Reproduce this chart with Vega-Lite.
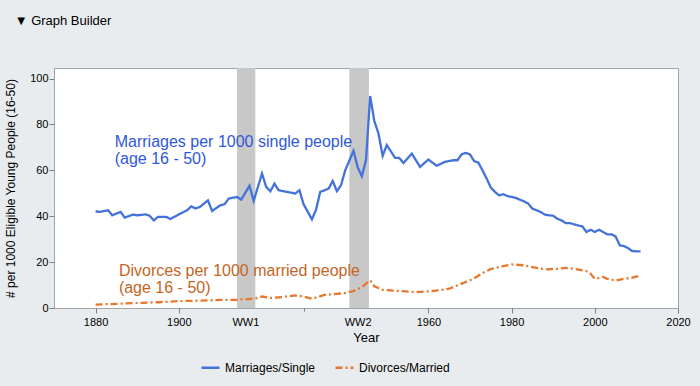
{
  "$schema": "https://vega.github.io/schema/vega-lite/v6.json",
  "width": 624,
  "height": 240,
  "autosize": {"type": "none"},
  "padding": {"left": 54, "top": 68, "right": 22, "bottom": 78},
  "background": "#E9ECEE",
  "title": {"text": "▼   Graph Builder", "anchor": "start", "frame": "bounds", "orient": "top", "font": "Liberation Sans", "fontSize": 13, "fontWeight": "normal", "color": "#000000", "dx": 10, "offset": 30, "baseline": "alphabetic"},
  "config": {
    "font": "Liberation Sans",
    "view": {"stroke": "#A0A4A8", "fill": "#FFFFFF"},
    "axis": {"domain": false, "grid": false, "tickColor": "#7F7F7F", "labelColor": "#000000", "labelFont": "Liberation Sans", "labelFontSize": 11, "titleFont": "Liberation Sans", "titleFontWeight": "normal", "titleColor": "#000000"},
    "legend": {"orient": "none", "legendX": 146, "legendY": 289, "direction": "horizontal", "title": null, "labelFont": "Liberation Sans", "labelFontSize": 12, "labelColor": "#000000", "symbolSize": 324, "symbolStrokeWidth": 2.5, "columnPadding": 14, "labelOffset": 4}
  },
  "datasets": {
    "series": [
      {"year": 1880, "series": "Marriages/Single", "value": 42.1},
      {"year": 1881, "series": "Marriages/Single", "value": 41.9},
      {"year": 1883, "series": "Marriages/Single", "value": 42.6},
      {"year": 1884, "series": "Marriages/Single", "value": 40.4},
      {"year": 1886, "series": "Marriages/Single", "value": 41.9},
      {"year": 1887, "series": "Marriages/Single", "value": 39.4},
      {"year": 1889, "series": "Marriages/Single", "value": 40.7},
      {"year": 1890, "series": "Marriages/Single", "value": 40.4},
      {"year": 1892, "series": "Marriages/Single", "value": 40.8},
      {"year": 1893, "series": "Marriages/Single", "value": 40.2},
      {"year": 1894, "series": "Marriages/Single", "value": 38.2},
      {"year": 1895, "series": "Marriages/Single", "value": 39.7},
      {"year": 1897, "series": "Marriages/Single", "value": 39.7},
      {"year": 1898, "series": "Marriages/Single", "value": 38.8},
      {"year": 1900, "series": "Marriages/Single", "value": 40.8},
      {"year": 1902, "series": "Marriages/Single", "value": 42.6},
      {"year": 1903, "series": "Marriages/Single", "value": 44.3},
      {"year": 1904, "series": "Marriages/Single", "value": 43.4},
      {"year": 1905, "series": "Marriages/Single", "value": 44.0},
      {"year": 1907, "series": "Marriages/Single", "value": 46.9},
      {"year": 1908, "series": "Marriages/Single", "value": 42.3},
      {"year": 1910, "series": "Marriages/Single", "value": 44.8},
      {"year": 1911, "series": "Marriages/Single", "value": 45.2},
      {"year": 1912, "series": "Marriages/Single", "value": 47.7},
      {"year": 1914, "series": "Marriages/Single", "value": 48.4},
      {"year": 1915, "series": "Marriages/Single", "value": 47.2},
      {"year": 1917, "series": "Marriages/Single", "value": 53.3},
      {"year": 1918, "series": "Marriages/Single", "value": 46.7},
      {"year": 1920, "series": "Marriages/Single", "value": 58.6},
      {"year": 1921, "series": "Marriages/Single", "value": 52.8},
      {"year": 1922, "series": "Marriages/Single", "value": 50.9},
      {"year": 1923, "series": "Marriages/Single", "value": 54.2},
      {"year": 1924, "series": "Marriages/Single", "value": 51.3},
      {"year": 1926, "series": "Marriages/Single", "value": 50.6},
      {"year": 1928, "series": "Marriages/Single", "value": 49.9},
      {"year": 1929, "series": "Marriages/Single", "value": 51.3},
      {"year": 1930, "series": "Marriages/Single", "value": 45.2},
      {"year": 1932, "series": "Marriages/Single", "value": 38.6},
      {"year": 1933, "series": "Marriages/Single", "value": 42.9},
      {"year": 1934, "series": "Marriages/Single", "value": 50.6},
      {"year": 1936, "series": "Marriages/Single", "value": 52.0},
      {"year": 1937, "series": "Marriages/Single", "value": 55.4},
      {"year": 1938, "series": "Marriages/Single", "value": 50.9},
      {"year": 1939, "series": "Marriages/Single", "value": 53.5},
      {"year": 1940, "series": "Marriages/Single", "value": 60.0},
      {"year": 1942, "series": "Marriages/Single", "value": 68.5},
      {"year": 1943, "series": "Marriages/Single", "value": 61.3},
      {"year": 1944, "series": "Marriages/Single", "value": 57.4},
      {"year": 1945, "series": "Marriages/Single", "value": 64.4},
      {"year": 1946, "series": "Marriages/Single", "value": 92.4},
      {"year": 1947, "series": "Marriages/Single", "value": 81.5},
      {"year": 1948, "series": "Marriages/Single", "value": 76.1},
      {"year": 1949, "series": "Marriages/Single", "value": 66.3},
      {"year": 1950, "series": "Marriages/Single", "value": 71.0},
      {"year": 1952, "series": "Marriages/Single", "value": 65.4},
      {"year": 1953, "series": "Marriages/Single", "value": 65.4},
      {"year": 1954, "series": "Marriages/Single", "value": 63.2},
      {"year": 1956, "series": "Marriages/Single", "value": 67.3},
      {"year": 1958, "series": "Marriages/Single", "value": 61.5},
      {"year": 1960, "series": "Marriages/Single", "value": 64.7},
      {"year": 1962, "series": "Marriages/Single", "value": 62.0},
      {"year": 1964, "series": "Marriages/Single", "value": 63.7},
      {"year": 1966, "series": "Marriages/Single", "value": 64.4},
      {"year": 1967, "series": "Marriages/Single", "value": 64.4},
      {"year": 1968, "series": "Marriages/Single", "value": 67.0},
      {"year": 1969, "series": "Marriages/Single", "value": 67.6},
      {"year": 1970, "series": "Marriages/Single", "value": 66.9},
      {"year": 1971, "series": "Marriages/Single", "value": 64.0},
      {"year": 1972, "series": "Marriages/Single", "value": 63.4},
      {"year": 1973, "series": "Marriages/Single", "value": 60.0},
      {"year": 1974, "series": "Marriages/Single", "value": 56.4},
      {"year": 1975, "series": "Marriages/Single", "value": 52.5},
      {"year": 1976, "series": "Marriages/Single", "value": 50.6},
      {"year": 1977, "series": "Marriages/Single", "value": 49.1},
      {"year": 1978, "series": "Marriages/Single", "value": 49.6},
      {"year": 1979, "series": "Marriages/Single", "value": 48.8},
      {"year": 1980, "series": "Marriages/Single", "value": 48.4},
      {"year": 1981, "series": "Marriages/Single", "value": 48.0},
      {"year": 1982, "series": "Marriages/Single", "value": 47.2},
      {"year": 1983, "series": "Marriages/Single", "value": 46.5},
      {"year": 1984, "series": "Marriages/Single", "value": 45.5},
      {"year": 1985, "series": "Marriages/Single", "value": 43.3},
      {"year": 1986, "series": "Marriages/Single", "value": 42.6},
      {"year": 1987, "series": "Marriages/Single", "value": 41.8},
      {"year": 1988, "series": "Marriages/Single", "value": 40.7},
      {"year": 1989, "series": "Marriages/Single", "value": 40.4},
      {"year": 1990, "series": "Marriages/Single", "value": 40.2},
      {"year": 1991, "series": "Marriages/Single", "value": 38.9},
      {"year": 1992, "series": "Marriages/Single", "value": 38.2},
      {"year": 1993, "series": "Marriages/Single", "value": 37.0},
      {"year": 1994, "series": "Marriages/Single", "value": 37.0},
      {"year": 1995, "series": "Marriages/Single", "value": 36.5},
      {"year": 1996, "series": "Marriages/Single", "value": 36.0},
      {"year": 1997, "series": "Marriages/Single", "value": 35.6},
      {"year": 1998, "series": "Marriages/Single", "value": 33.1},
      {"year": 1999, "series": "Marriages/Single", "value": 34.1},
      {"year": 2000, "series": "Marriages/Single", "value": 33.1},
      {"year": 2001, "series": "Marriages/Single", "value": 34.1},
      {"year": 2002, "series": "Marriages/Single", "value": 33.1},
      {"year": 2003, "series": "Marriages/Single", "value": 32.1},
      {"year": 2004, "series": "Marriages/Single", "value": 32.1},
      {"year": 2005, "series": "Marriages/Single", "value": 31.2},
      {"year": 2006, "series": "Marriages/Single", "value": 27.3},
      {"year": 2007, "series": "Marriages/Single", "value": 27.0},
      {"year": 2008, "series": "Marriages/Single", "value": 26.1},
      {"year": 2009, "series": "Marriages/Single", "value": 24.8},
      {"year": 2010, "series": "Marriages/Single", "value": 24.7},
      {"year": 2011, "series": "Marriages/Single", "value": 24.7},
      {"year": 1880, "series": "Divorces/Married", "value": 1.5},
      {"year": 1885, "series": "Divorces/Married", "value": 1.8},
      {"year": 1890, "series": "Divorces/Married", "value": 2.2},
      {"year": 1895, "series": "Divorces/Married", "value": 2.5},
      {"year": 1900, "series": "Divorces/Married", "value": 3.0},
      {"year": 1905, "series": "Divorces/Married", "value": 3.2},
      {"year": 1910, "series": "Divorces/Married", "value": 3.5},
      {"year": 1914, "series": "Divorces/Married", "value": 3.6},
      {"year": 1916, "series": "Divorces/Married", "value": 3.9},
      {"year": 1918, "series": "Divorces/Married", "value": 4.0},
      {"year": 1920, "series": "Divorces/Married", "value": 5.0},
      {"year": 1922, "series": "Divorces/Married", "value": 4.4},
      {"year": 1925, "series": "Divorces/Married", "value": 4.8},
      {"year": 1928, "series": "Divorces/Married", "value": 5.5},
      {"year": 1930, "series": "Divorces/Married", "value": 5.0},
      {"year": 1932, "series": "Divorces/Married", "value": 4.0},
      {"year": 1935, "series": "Divorces/Married", "value": 5.7},
      {"year": 1937, "series": "Divorces/Married", "value": 6.0},
      {"year": 1940, "series": "Divorces/Married", "value": 6.5},
      {"year": 1942, "series": "Divorces/Married", "value": 7.4},
      {"year": 1944, "series": "Divorces/Married", "value": 9.1},
      {"year": 1946, "series": "Divorces/Married", "value": 12.0},
      {"year": 1947, "series": "Divorces/Married", "value": 9.5},
      {"year": 1949, "series": "Divorces/Married", "value": 7.9},
      {"year": 1953, "series": "Divorces/Married", "value": 7.4},
      {"year": 1957, "series": "Divorces/Married", "value": 6.9},
      {"year": 1961, "series": "Divorces/Married", "value": 7.4},
      {"year": 1965, "series": "Divorces/Married", "value": 8.4},
      {"year": 1968, "series": "Divorces/Married", "value": 10.6},
      {"year": 1971, "series": "Divorces/Married", "value": 12.9},
      {"year": 1973, "series": "Divorces/Married", "value": 15.2},
      {"year": 1975, "series": "Divorces/Married", "value": 17.0},
      {"year": 1978, "series": "Divorces/Married", "value": 18.3},
      {"year": 1980, "series": "Divorces/Married", "value": 19.0},
      {"year": 1983, "series": "Divorces/Married", "value": 18.6},
      {"year": 1986, "series": "Divorces/Married", "value": 17.5},
      {"year": 1988, "series": "Divorces/Married", "value": 16.8},
      {"year": 1991, "series": "Divorces/Married", "value": 17.1},
      {"year": 1993, "series": "Divorces/Married", "value": 17.5},
      {"year": 1995, "series": "Divorces/Married", "value": 17.1},
      {"year": 1998, "series": "Divorces/Married", "value": 16.1},
      {"year": 1999, "series": "Divorces/Married", "value": 14.9},
      {"year": 2000, "series": "Divorces/Married", "value": 12.7},
      {"year": 2002, "series": "Divorces/Married", "value": 13.5},
      {"year": 2003, "series": "Divorces/Married", "value": 12.7},
      {"year": 2005, "series": "Divorces/Married", "value": 12.0},
      {"year": 2007, "series": "Divorces/Married", "value": 12.7},
      {"year": 2009, "series": "Divorces/Married", "value": 13.2},
      {"year": 2011, "series": "Divorces/Married", "value": 14.2}
    ],
    "wars": [
      {"name": "WW1", "start": 1914, "end": 1918.4},
      {"name": "WW2", "start": 1941, "end": 1945.7}
    ],
    "notes": [
      {"series": "Marriages/Single", "year": 1884.6, "value": 70.1, "text": "Marriages per 1000 single people\n(age 16 - 50)"},
      {"series": "Divorces/Married", "year": 1885.6, "value": 13.8, "text": "Divorces per 1000 married people\n(age 16 - 50)"}
    ]
  },
  "layer": [
    {
      "data": {"name": "wars"},
      "mark": {"type": "rect", "color": "#C8C8C8"},
      "encoding": {
        "x": {
          "field": "start", "type": "quantitative",
          "scale": {"domain": [1870, 2020], "nice": false, "zero": false},
          "axis": {
            "title": "Year", "titleFontSize": 13, "titlePadding": 4,
            "values": [1880, 1890, 1900, 1910, 1916, 1920, 1930, 1940, 1943, 1950, 1960, 1970, 1980, 1990, 2000, 2010, 2020],
            "format": "d",
            "labelExpr": "datum.value == 1916 ? 'WW1' : datum.value == 1943 ? 'WW2' : (datum.value % 20 == 0 && datum.value != 1920 && datum.value != 1940) ? datum.label : ''",
            "labelOverlap": false, "labelFlush": false, "labelPadding": 3, "labelBaseline": "top",
            "tickSize": {"condition": {"test": "datum.value % 20 == 10", "value": 3}, "value": 5},
            "tickOpacity": {"condition": {"test": "datum.value == 1916 || datum.value == 1943", "value": 0}, "value": 1}
          }
        },
        "x2": {"field": "end"}
      }
    },
    {
      "data": {"name": "series"},
      "mark": {"type": "line", "strokeWidth": 2.3},
      "encoding": {
        "x": {"field": "year", "type": "quantitative"},
        "y": {
          "field": "value", "type": "quantitative",
          "scale": {"domain": [0, 104.6], "nice": false},
          "axis": {
            "title": "# per 1000 Eligible Young People (16-50)", "titleFontSize": 12, "titlePadding": 12,
            "values": [0, 10, 20, 30, 40, 50, 60, 70, 80, 90, 100],
            "labelExpr": "datum.value % 20 == 0 ? datum.label : ''",
            "labelPadding": 1,
            "tickSize": {"condition": {"test": "datum.value % 20 == 10", "value": 3}, "value": 5}
          }
        },
        "color": {
          "field": "series", "type": "nominal",
          "scale": {"domain": ["Marriages/Single", "Divorces/Married"], "range": ["#4372DB", "#E9762A"]}
        },
        "strokeDash": {
          "field": "series", "type": "nominal",
          "scale": {"domain": ["Marriages/Single", "Divorces/Married"], "range": [[1, 0], [7, 3, 2, 3]]}
        }
      }
    },
    {
      "data": {"name": "notes"},
      "transform": [{"filter": "datum.series == 'Marriages/Single'"}],
      "mark": {"type": "text", "align": "left", "baseline": "alphabetic", "fontSize": 16, "lineBreak": "\n", "lineHeight": 16.5, "color": "#2F58DA"},
      "encoding": {
        "x": {"field": "year", "type": "quantitative"},
        "y": {"field": "value", "type": "quantitative"},
        "text": {"field": "text"}
      }
    },
    {
      "data": {"name": "notes"},
      "transform": [{"filter": "datum.series == 'Divorces/Married'"}],
      "mark": {"type": "text", "align": "left", "baseline": "alphabetic", "fontSize": 16, "lineBreak": "\n", "lineHeight": 16.5, "color": "#C4661F"},
      "encoding": {
        "x": {"field": "year", "type": "quantitative"},
        "y": {"field": "value", "type": "quantitative"},
        "text": {"field": "text"}
      }
    }
  ]
}
